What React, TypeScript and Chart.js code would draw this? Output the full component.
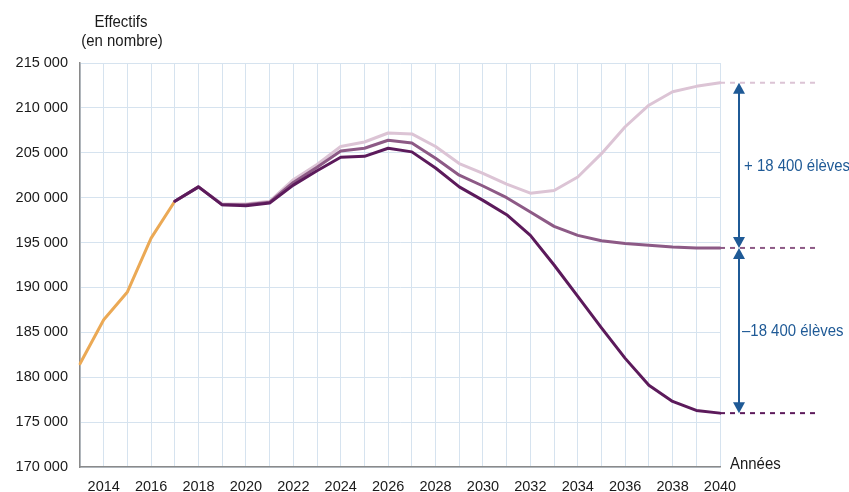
import React, { useEffect, useRef } from "react";
import { Chart, registerables } from "chart.js";

Chart.register(...registerables);

const years = [
  2013, 2014, 2015, 2016, 2017, 2018, 2019, 2020, 2021, 2022, 2023, 2024, 2025, 2026,
  2027, 2028, 2029, 2030, 2031, 2032, 2033, 2034, 2035, 2036, 2037, 2038, 2039, 2040,
];

// Constat 2013-2017
const constat = [181500, 186400, 189500, 195500, 199600];

// Projections 2017-2040
const hypBasse = [
  199600, 201200, 199200, 199100, 199400, 201400, 203000, 204500, 204600, 205500, 205100,
  203300, 201200, 199700, 198100, 195800, 192500, 189000, 185500, 182100, 179100, 177300,
  176300, 176000,
];
const hypCentrale = [
  199600, 201200, 199200, 199200, 199500, 201700, 203400, 205200, 205500, 206400, 206100,
  204400, 202500, 201300, 200000, 198400, 196800, 195800, 195200, 194900, 194700, 194500,
  194400, 194400,
];
const hypHaute = [
  199600, 201200, 199300, 199300, 199600, 202000, 203700, 205700, 206200, 207200, 207100,
  205700, 203800, 202700, 201500, 200500, 200800, 202300, 204900, 207900, 210300, 211800,
  212400, 212800,
];

const levels2040 = [212800, 194400, 176000];
const ecartLabels = ["+ 18 400 élèves", "–18 400 élèves"];

const yTicks = [170000, 175000, 180000, 185000, 190000, 195000, 200000, 205000, 210000, 215000];

const FONT = "'Liberation Sans', Arial, sans-serif";
const BLUE = "#1f5a96";
const DARK = "#5c1a5b";
const MID = "#8d5a86";
const LIGHT = "#dcc4d5";
const ORANGE = "#eba955";

const constatData = years.map((_, i) => (i < constat.length ? constat[i] : null));
const projStart = years.indexOf(2017);
const proj = (arr: number[]) => years.map((_, i) => (i >= projStart ? arr[i - projStart] : null));

function narrowText(
  ctx: CanvasRenderingContext2D,
  text: string,
  x: number,
  y: number,
  align: "left" | "center",
  color: string
) {
  const sx = 0.88;
  ctx.save();
  ctx.font = `17px ${FONT}`;
  ctx.fillStyle = color;
  ctx.textBaseline = "middle";
  ctx.textAlign = align;
  ctx.translate(x, y);
  ctx.scale(sx, 1);
  ctx.fillText(text, 0, 0);
  ctx.restore();
}

const annotPlugin = {
  id: "annot",
  afterDraw(chart: any) {
    const ctx = chart.ctx as CanvasRenderingContext2D;
    const y = chart.scales.y;
    const area = chart.chartArea;
    const right = area.right;
    ctx.save();

    // Axis title
    narrowText(ctx, "Effectifs", 121, 22, "center", "#1a1a1a");
    narrowText(ctx, "(en nombre)", 122, 41, "center", "#1a1a1a");

    // Années
    narrowText(ctx, "Années", right + 10, area.bottom - 3, "left", "#1a1a1a");

    // dashed extensions
    const dashColors = [LIGHT, MID, DARK];
    ctx.lineWidth = 2;
    ctx.setLineDash([5, 5]);
    levels2040.forEach((v, i) => {
      const py = y.getPixelForValue(v);
      ctx.strokeStyle = dashColors[i];
      ctx.beginPath();
      ctx.moveTo(right, py);
      ctx.lineTo(right + 97, py);
      ctx.stroke();
    });
    ctx.setLineDash([]);

    // arrows
    const ax = right + 19;
    const head = (px: number, py: number, dir: number) => {
      ctx.beginPath();
      ctx.moveTo(px, py);
      ctx.lineTo(px - 6, py + dir * 11);
      ctx.lineTo(px + 6, py + dir * 11);
      ctx.closePath();
      ctx.fill();
    };
    ctx.strokeStyle = BLUE;
    ctx.fillStyle = BLUE;
    ctx.lineWidth = 2;
    for (let i = 0; i < 2; i++) {
      const y1 = y.getPixelForValue(levels2040[i]);
      const y2 = y.getPixelForValue(levels2040[i + 1]);
      ctx.beginPath();
      ctx.moveTo(ax, y1 + 4);
      ctx.lineTo(ax, y2 - 4);
      ctx.stroke();
      head(ax, y1, 1);
      head(ax, y2, -1);
      narrowText(ctx, ecartLabels[i], ax + (i === 0 ? 5 : 3), (y1 + y2) / 2 + 1, "left", BLUE);
    }
    ctx.restore();
  },
};

export default function App() {
  const ref = useRef<HTMLCanvasElement | null>(null);
  useEffect(() => {
    if (!ref.current) return;
    const chart = new Chart(ref.current, {
      type: "line",
      data: {
        labels: years.map(String),
        datasets: [
          { label: "Hypothèse basse", data: proj(hypBasse), borderColor: DARK, borderWidth: 3 },
          { label: "Hypothèse centrale", data: proj(hypCentrale), borderColor: MID, borderWidth: 3 },
          { label: "Hypothèse haute", data: proj(hypHaute), borderColor: LIGHT, borderWidth: 3 },
          { label: "Constat", data: constatData, borderColor: ORANGE, borderWidth: 3 },
        ] as any,
      },
      options: {
        animation: false,
        responsive: true,
        maintainAspectRatio: false,
        layout: { padding: { top: 63, right: 129, left: 0, bottom: 0 } },
        elements: { point: { radius: 0 }, line: { tension: 0, borderJoinStyle: "round", borderCapStyle: "round" } },
        plugins: { legend: { display: false }, tooltip: { enabled: false } },
        scales: {
          x: {
            type: "category",
            offset: false,
            grid: { color: "#d6e3ef", lineWidth: 1, drawTicks: false },
            border: { color: "#8a8a8a", width: 1.5 },
            ticks: {
              autoSkip: false,
              maxRotation: 0,
              padding: 11,
              color: "#1a1a1a",
              font: { family: FONT, size: 14.5 },
              callback: (_v: any, i: number) => (years[i] % 2 === 0 ? String(years[i]) : ""),
            },
            afterFit: (s: any) => {
              s.height = 25;
            },
          },
          y: {
            min: yTicks[0],
            max: yTicks[yTicks.length - 1],
            afterBuildTicks: (s: any) => {
              s.ticks = yTicks.map((v) => ({ value: v }));
            },
            grid: { color: "#d6e3ef", lineWidth: 1, drawTicks: false },
            border: { color: "#8a8a8a", width: 1.5 },
            ticks: {
              padding: 12,
              color: "#1a1a1a",
              font: { family: FONT, size: 14.5 },
              callback: (v: any) => `${Math.round(Number(v) / 1000)} 000`,
            },
            afterFit: (s: any) => {
              s.width = 80;
            },
          },
        },
      },
      plugins: [annotPlugin],
    });
    return () => chart.destroy();
  }, []);
  return (
    <div style={{ position: "fixed", left: 0, top: 0, width: 849, height: 492, background: "#fff" }}>
      <canvas ref={ref} />
    </div>
  );
}
